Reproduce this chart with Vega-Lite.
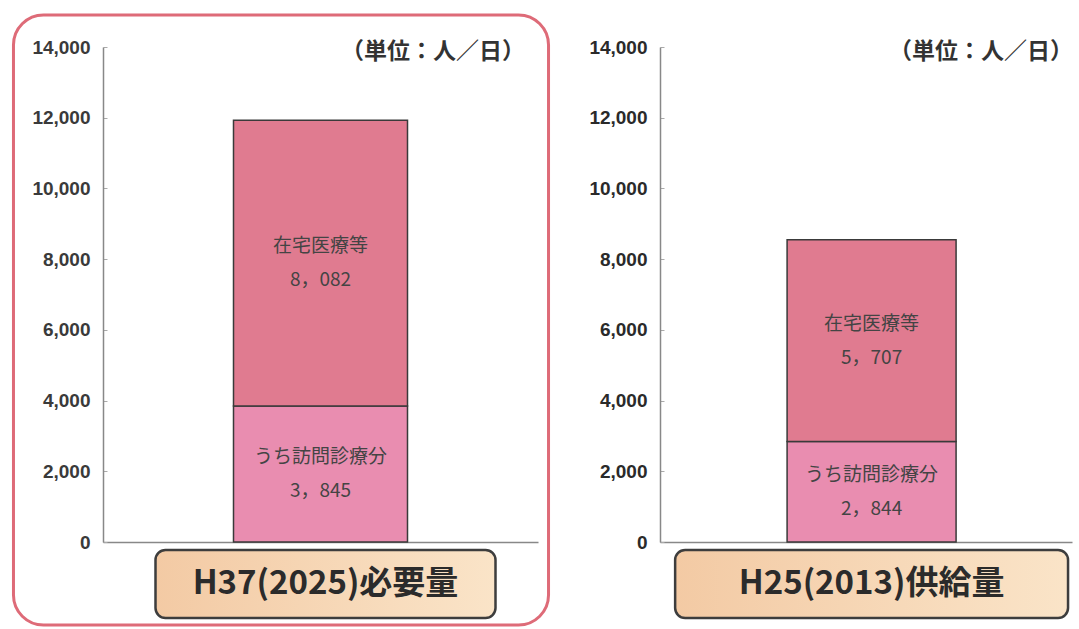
{
  "$schema": "https://vega.github.io/schema/vega-lite/v6.json",
  "padding": {"left": 11, "top": 13, "right": 0, "bottom": 0},
  "background": "white",
  "bounds": "flush",
  "spacing": 122,
  "config": {"view": {"stroke": null}, "font": "Noto Sans CJK JP"},
  "data": {"values": [
    {"period": "H37(2025)必要量", "segment": "うち訪問診療分", "value": 3845, "num": "3，845"},
    {"period": "H37(2025)必要量", "segment": "在宅医療等", "value": 8082, "num": "8，082"},
    {"period": "H25(2013)供給量", "segment": "うち訪問診療分", "value": 2844, "num": "2，844"},
    {"period": "H25(2013)供給量", "segment": "在宅医療等", "value": 5707, "num": "5，707"}
  ]},
  "hconcat": [
    {
      "width": 435,
      "height": 495,
      "transform": [{"filter": "datum.period === 'H37(2025)必要量'"}],
      "encoding": {
        "x": {"field": "period", "type": "nominal",
          "scale": {"paddingInner": 0, "paddingOuter": 0.75, "align": 0.5},
          "axis": {"labels": false, "ticks": false, "title": null, "domainColor": "#888888", "domainWidth": 1.5}}
      },
      "layer": [
        {
          "transform": [{"filter": "datum.segment === '在宅医療等'"}],
          "mark": {"type": "bar", "width": {"band": 3.075}, "xOffset": -39.5, "filled": false, "stroke": "#de6b78", "strokeWidth": 3, "cornerRadius": 30, "clip": false},
          "encoding": {"y": {"datum": 14905, "type": "quantitative"}, "y2": {"datum": -2350}}
        },
        {
          "mark": {"type": "bar", "stroke": "#3a3a3a", "strokeWidth": 1.5},
          "encoding": {
            "y": {"field": "value", "type": "quantitative", "stack": "zero",
              "scale": {"domain": [0, 14000], "nice": false},
              "axis": {"values": [0, 2000, 4000, 6000, 8000, 10000, 12000, 14000], "format": ",d", "title": null, "grid": false,
                "labelFont": "Liberation Sans", "labelFontSize": 19, "labelFontWeight": "bold", "labelColor": "#3a3a3a",
                "labelPadding": 17, "tickSize": -4, "tickColor": "#aaaaaa", "domainColor": "#888888", "domainWidth": 1.5}},
            "color": {"field": "segment", "type": "nominal", "legend": null,
              "scale": {"domain": ["うち訪問診療分", "在宅医療等"], "range": ["#e98db0", "#e07b90"]}},
            "order": {"field": "segment", "sort": "ascending"}
          }
        },
        {
          "transform": [
            {"stack": "value", "groupby": ["period"], "sort": [{"field": "segment", "order": "ascending"}], "as": ["v0", "v1"]},
            {"fold": ["v0", "v1"], "as": ["edge", "pos"]},
            {"aggregate": [{"op": "mean", "field": "pos", "as": "mid"}], "groupby": ["period", "segment", "num"]}
          ],
          "layer": [
            {"mark": {"type": "text", "fontSize": 19, "color": "#444444", "dy": -17},
             "encoding": {"y": {"field": "mid", "type": "quantitative"}, "text": {"field": "segment"}}},
            {"mark": {"type": "text", "fontSize": 19, "color": "#444444", "dy": 17},
             "encoding": {"y": {"field": "mid", "type": "quantitative"}, "text": {"field": "num"}}}
          ]
        },
        {
          "transform": [{"filter": "datum.segment === '在宅医療等'"}],
          "mark": {"type": "bar", "width": {"band": 1.954}, "xOffset": 5, "cornerRadius": 10, "clip": false,
            "fill": {"gradient": "linear", "x1": 0, "y1": 0, "x2": 1, "y2": 0, "stops": [{"offset": 0, "color": "#f3caa4"}, {"offset": 1, "color": "#fae4c8"}]},
            "stroke": "#3d3d3d", "strokeWidth": 2.5},
          "encoding": {"y": {"datum": -226, "type": "quantitative"}, "y2": {"datum": -2150}}
        },
        {
          "transform": [{"filter": "datum.segment === '在宅医療等'"}],
          "mark": {"type": "text", "fontSize": 33, "fontWeight": "bold", "color": "#2b2b2b", "dx": 5, "baseline": "middle"},
          "encoding": {"y": {"datum": -1190, "type": "quantitative"}, "text": {"field": "period"}}
        },
        {
          "transform": [{"filter": "datum.segment === '在宅医療等'"}],
          "mark": {"type": "text", "fontSize": 23, "fontWeight": "bold", "color": "#333333", "align": "right", "baseline": "middle", "dx": -13, "dy": 5},
          "encoding": {"x": {"value": "width"}, "y": {"datum": 14000, "type": "quantitative"}, "text": {"value": "（単位：人／日）"}}
        }
      ]
    },
    {
      "width": 412,
      "height": 495,
      "transform": [{"filter": "datum.period === 'H25(2013)供給量'"}],
      "encoding": {
        "x": {"field": "period", "type": "nominal",
          "scale": {"paddingInner": 0, "paddingOuter": 0.719, "align": 0.523},
          "axis": {"labels": false, "ticks": false, "title": null, "domainColor": "#888888", "domainWidth": 1.5}}
      },
      "layer": [
        {
          "mark": {"type": "bar", "stroke": "#3a3a3a", "strokeWidth": 1.5},
          "encoding": {
            "y": {"field": "value", "type": "quantitative", "stack": "zero",
              "scale": {"domain": [0, 14000], "nice": false},
              "axis": {"values": [0, 2000, 4000, 6000, 8000, 10000, 12000, 14000], "format": ",d", "title": null, "grid": false,
                "labelFont": "Liberation Sans", "labelFontSize": 19, "labelFontWeight": "bold", "labelColor": "#2a2a2a",
                "labelPadding": 17, "tickSize": -4, "tickColor": "#aaaaaa", "domainColor": "#888888", "domainWidth": 1.5}},
            "color": {"field": "segment", "type": "nominal", "legend": null,
              "scale": {"domain": ["うち訪問診療分", "在宅医療等"], "range": ["#e98db0", "#e07b90"]}},
            "order": {"field": "segment", "sort": "ascending"}
          }
        },
        {
          "transform": [
            {"stack": "value", "groupby": ["period"], "sort": [{"field": "segment", "order": "ascending"}], "as": ["v0", "v1"]},
            {"fold": ["v0", "v1"], "as": ["edge", "pos"]},
            {"aggregate": [{"op": "mean", "field": "pos", "as": "mid"}], "groupby": ["period", "segment", "num"]}
          ],
          "layer": [
            {"mark": {"type": "text", "fontSize": 19, "color": "#444444", "dy": -17},
             "encoding": {"y": {"field": "mid", "type": "quantitative"}, "text": {"field": "segment"}}},
            {"mark": {"type": "text", "fontSize": 19, "color": "#444444", "dy": 17},
             "encoding": {"y": {"field": "mid", "type": "quantitative"}, "text": {"field": "num"}}}
          ]
        },
        {
          "transform": [{"filter": "datum.segment === '在宅医療等'"}],
          "mark": {"type": "bar", "width": {"band": 2.325}, "cornerRadius": 10, "clip": false,
            "fill": {"gradient": "linear", "x1": 0, "y1": 0, "x2": 1, "y2": 0, "stops": [{"offset": 0, "color": "#f3caa4"}, {"offset": 1, "color": "#fae4c8"}]},
            "stroke": "#3d3d3d", "strokeWidth": 2.5},
          "encoding": {"y": {"datum": -226, "type": "quantitative"}, "y2": {"datum": -2150}}
        },
        {
          "transform": [{"filter": "datum.segment === '在宅医療等'"}],
          "mark": {"type": "text", "fontSize": 33, "fontWeight": "bold", "color": "#2b2b2b", "baseline": "middle"},
          "encoding": {"y": {"datum": -1190, "type": "quantitative"}, "text": {"field": "period"}}
        },
        {
          "transform": [{"filter": "datum.segment === '在宅医療等'"}],
          "mark": {"type": "text", "fontSize": 23, "fontWeight": "bold", "color": "#333333", "align": "right", "baseline": "middle", "dx": 1, "dy": 5},
          "encoding": {"x": {"value": "width"}, "y": {"datum": 14000, "type": "quantitative"}, "text": {"value": "（単位：人／日）"}}
        }
      ]
    }
  ]
}
